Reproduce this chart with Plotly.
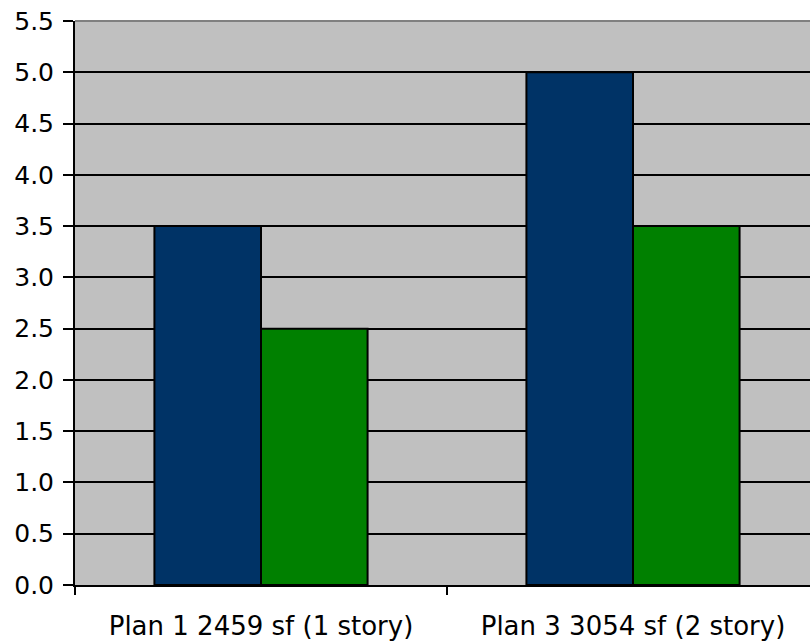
import plotly.graph_objects as go

categories = ["Plan 1 2459 sf (1 story)", "Plan 3 3054 sf (2 story)"]
series_a = [3.5, 5.0]
series_b = [2.5, 3.5]
y_ticks = [0.0, 0.5, 1.0, 1.5, 2.0, 2.5, 3.0, 3.5, 4.0, 4.5, 5.0, 5.5]
y_tick_labels = [f"{v:.1f}" for v in y_ticks]

W, H = 810, 643
ml, mr, mt, mb = 75, 0, 21, 58
cat_px = 372.0
plot_w = W - ml - mr
x_range = [-0.5, -0.5 + plot_w / cat_px]

font = dict(family="DejaVu Sans, sans-serif", size=25, color="black")
xfont = dict(family="DejaVu Sans, sans-serif", size=26, color="black")

fig = go.Figure()
fig.add_trace(go.Bar(x=categories, y=series_a, marker=dict(color="#003366", line=dict(color="black", width=2)), showlegend=False))
fig.add_trace(go.Bar(x=categories, y=series_b, marker=dict(color="#008000", line=dict(color="black", width=2)), showlegend=False))

fig.update_layout(
    width=W, height=H,
    margin=dict(l=ml, r=mr, t=mt, b=mb, pad=0),
    paper_bgcolor="white",
    plot_bgcolor="#C0C0C0",
    barmode="group",
    bargap=0.427,
    bargroupgap=0,
    font=font,
    xaxis=dict(
        type="category",
        range=x_range,
        showgrid=False,
        showline=True, linecolor="black", linewidth=2,
        ticks="outside", ticklen=8, tickwidth=2, tickcolor="black",
        tickson="boundaries",
        ticklabelstandoff=17,
        tickfont=xfont,
        zeroline=False,
    ),
    yaxis=dict(
        range=[0, 5.5],
        tickvals=y_ticks,
        ticktext=y_tick_labels,
        showgrid=True, gridcolor="black", gridwidth=2,
        showline=True, linecolor="black", linewidth=2,
        ticks="outside", ticklen=10, tickwidth=2, tickcolor="black",
        ticklabelstandoff=4,
        tickfont=font,
        zeroline=False,
    ),
    shapes=[dict(type="line", xref="paper", yref="paper", x0=0, x1=1, y0=1, y1=1,
                 line=dict(color="#808080", width=2), layer="above")],
)

fig.write_html("out.html")
